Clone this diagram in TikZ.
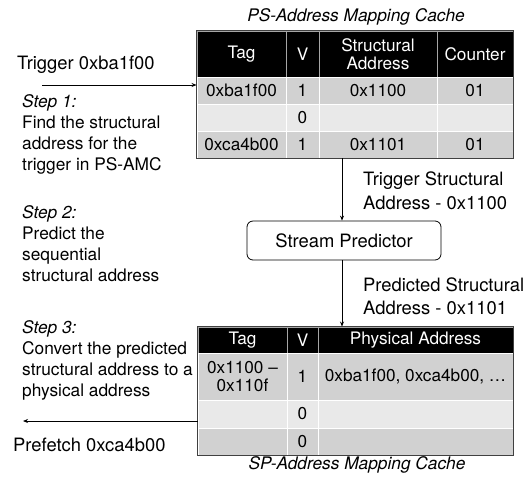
\documentclass[tikz,border=0pt]{standalone}
\usepackage{fontspec}
\setmainfont{TeX Gyre Heros}
\usetikzlibrary{arrows.meta}
\definecolor{rowdark}{gray}{0.82}
\definecolor{rowlight}{gray}{0.915}
\definecolor{edge}{gray}{0.25}

\begin{document}
\begin{tikzpicture}[x=1pt,y=-1pt,
  txt/.style={font=\fontsize{17.3}{21}\selectfont, inner sep=0pt, align=left},
  big/.style={font=\fontsize{18.4}{21}\selectfont, inner sep=0pt, align=left},
  lbl/.style={font=\fontsize{18.4}{23.5}\selectfont, inner sep=0pt, align=left},
  ttl/.style={font=\fontsize{17.3}{20}\selectfont\itshape, inner sep=0pt},
  cell/.style={draw=white, line width=0.9pt, inner sep=0pt, align=center,
    font=\fontsize{17.2}{18}\selectfont},
  hcell/.style={cell, draw=white!65!black, fill=black, text=white},
  dcell/.style={cell, fill=rowdark},
  lcell/.style={cell, fill=rowlight},
  frame/.style={draw=edge, line width=1pt},
  conn/.style={draw=black, line width=0.8pt, -{Stealth[length=5pt,width=4pt]}},
  predbox/.style={draw=black, line width=0.8pt, rounded corners=6pt, inner sep=0pt,
    font=\fontsize{18.4}{21}\selectfont}]
\useasboundingbox (0,0) rectangle (529,477);

% ---------- PS-Address Mapping Cache ----------
\node[ttl] (pstitle) at (356,17) {PS-Address Mapping Cache};
% header
\node[hcell, minimum width=89pt, minimum height=46pt] (p-h1) at (241.5,54) {Tag};
\node[hcell, minimum width=33pt, minimum height=46pt] (p-h2) at (302.5,54) {V};
\node[hcell, minimum width=118pt, minimum height=46pt] (p-h3) at (378,54) {Structural\\Address};
\node[hcell, minimum width=76pt, minimum height=46pt] (p-h4) at (475,54) {Counter};
% row 1
\node[dcell, minimum width=89pt, minimum height=27pt] (p-11) at (241.5,90.5) {0xba1f00};
\node[dcell, minimum width=33pt, minimum height=27pt] (p-12) at (302.5,90.5) {1};
\node[dcell, minimum width=118pt, minimum height=27pt] (p-13) at (378,90.5) {0x1100};
\node[dcell, minimum width=76pt, minimum height=27pt] (p-14) at (475,90.5) {01};
% row 2
\node[lcell, minimum width=89pt, minimum height=27pt] (p-21) at (241.5,117.5) {};
\node[lcell, minimum width=33pt, minimum height=27pt] (p-22) at (302.5,117.5) {0};
\node[lcell, minimum width=118pt, minimum height=27pt] (p-23) at (378,117.5) {};
\node[lcell, minimum width=76pt, minimum height=27pt] (p-24) at (475,117.5) {};
% row 3
\node[dcell, minimum width=89pt, minimum height=27pt] (p-31) at (241.5,144.5) {0xca4b00};
\node[dcell, minimum width=33pt, minimum height=27pt] (p-32) at (302.5,144.5) {1};
\node[dcell, minimum width=118pt, minimum height=27pt] (p-33) at (378,144.5) {0x1101};
\node[dcell, minimum width=76pt, minimum height=27pt] (p-34) at (475,144.5) {01};
\draw[frame] (p-h1.north west) rectangle (p-34.south east);

% ---------- Stream Predictor ----------
\node[predbox, minimum width=194pt, minimum height=39pt] (pred) at (344,240.5) {Stream Predictor};

% ---------- SP-Address Mapping Cache ----------
\node[hcell, minimum width=89pt, minimum height=26pt] (s-h1) at (242.5,340) {Tag};
\node[hcell, minimum width=31pt, minimum height=26pt] (s-h2) at (302.5,340) {V};
\node[hcell, minimum width=195pt, minimum height=26pt] (s-h3) at (415.5,340) {Physical Address};
\node[dcell, minimum width=89pt, minimum height=47pt] (s-11) at (242.5,376.5) {0x1100 --\\0x110f};
\node[dcell, minimum width=31pt, minimum height=47pt] (s-12) at (302.5,376.5) {1};
\node[dcell, minimum width=195pt, minimum height=47pt] (s-13) at (415.5,376.5) {0xba1f00, 0xca4b00, \dots};
\node[lcell, minimum width=89pt, minimum height=28pt] (s-21) at (242.5,414) {};
\node[lcell, minimum width=31pt, minimum height=28pt] (s-22) at (302.5,414) {0};
\node[lcell, minimum width=195pt, minimum height=28pt] (s-23) at (415.5,414) {};
\node[dcell, minimum width=89pt, minimum height=27pt] (s-31) at (242.5,441.5) {};
\node[dcell, minimum width=31pt, minimum height=27pt] (s-32) at (302.5,441.5) {0};
\node[dcell, minimum width=195pt, minimum height=27pt] (s-33) at (415.5,441.5) {};
\draw[frame] (s-h1.north west) rectangle (s-33.south east);
\node[ttl] (sptitle) at (357,465) {SP-Address Mapping Cache};

% ---------- side texts ----------
\node[big, anchor=west] (trig) at (17,65) {Trigger 0xba1f00};
\node[txt, anchor=west] (step1) at (22,134) {\textit{Step 1:}\\Find the structural\\address for the\\trigger in PS-AMC};
\node[txt, anchor=west] (step2) at (22,244) {\textit{Step 2:}\\Predict the\\sequential\\structural address};
\node[txt, anchor=west] (step3) at (22,360.5) {\textit{Step 3:}\\Convert the predicted\\structural address to a\\physical address};
\node[big, anchor=west] (pref) at (13,445) {Prefetch 0xca4b00};
\node[lbl, anchor=west] (tsa) at (363,191) {Trigger Structural\\Address - 0x1100};
\node[lbl, anchor=west] (psa) at (363,296.5) {Predicted Structural\\Address - 0x1101};

% ---------- connectors ----------
\coordinate (trigstart) at (42,85);
\coordinate (trigend) at (p-h1.west |- trigstart);
\draw[conn] (trigstart) -- (trigend);
\coordinate (psout) at (342,0);
\draw[conn] (psout |- p-33.south) -- (psout |- pred.north);
\draw[conn] (psout |- pred.south) -- (psout |- s-h3.north);
\coordinate (prefend) at (23,421);
\draw[conn] (s-21.west |- prefend) -- (prefend);
\end{tikzpicture}
\end{document}
